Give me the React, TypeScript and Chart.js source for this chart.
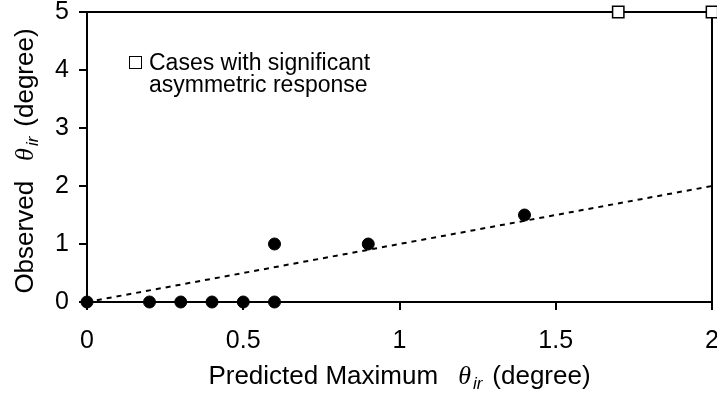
import React, { useEffect, useRef } from "react";
import { Chart, registerables } from "chart.js";

Chart.register(...registerables);

// ---- data ----
const fitX = [0, 2];
const fitY = [0, 2];
const observedX = [0, 0.2, 0.3, 0.4, 0.5, 0.6, 0.6, 0.9, 1.4];
const observedY = [0, 0, 0, 0, 0, 0, 1, 1, 1.5];
const asymmetricX = [1.7, 2];
const asymmetricY = [5, 5];
const xTickValues = [0, 0.5, 1, 1.5, 2];
const yTickValues = [0, 1, 2, 3, 4, 5];
const legendLines = ["Cases with significant", "asymmetric response"];
const xTitleParts = ["Predicted Maximum", "θ", "ir", "(degree)"];
const yTitleParts = ["Observed", "θ", "ir", "(degree)"];

const SANS = "'Liberation Sans', Arial, sans-serif";
const SERIF = "'Liberation Serif', 'Times New Roman', serif";

type Seg = { text: string; font: string; dy: number; gap: number };

function titleSegs(parts: string[]): Seg[] {
  return [
    { text: parts[0], font: `26px ${SANS}`, dy: 0, gap: 0 },
    { text: parts[1], font: `italic 26px ${SERIF}`, dy: 0, gap: 20 },
    { text: parts[2], font: `italic 17px ${SANS}`, dy: 5, gap: 2 },
    { text: parts[3], font: `26px ${SANS}`, dy: 0, gap: 10 },
  ];
}

function drawRich(ctx: CanvasRenderingContext2D, segs: Seg[], cx: number, by: number) {
  let total = 0;
  const widths = segs.map((s) => {
    ctx.font = s.font;
    const w = ctx.measureText(s.text).width;
    total += w + s.gap;
    return w;
  });
  let x = cx - total / 2;
  ctx.textAlign = "left";
  ctx.textBaseline = "alphabetic";
  ctx.fillStyle = "#000";
  segs.forEach((s, i) => {
    x += s.gap;
    ctx.font = s.font;
    ctx.fillText(s.text, x, by + s.dy);
    x += widths[i];
  });
}

const zeroPad = () => ({ left: 0, top: 0, right: 0, bottom: 0 });

const decorPlugin = {
  id: "decor",
  beforeDatasetsDraw(chart: any) {
    const { ctx, chartArea: a } = chart;
    ctx.save();
    ctx.strokeStyle = "#000";
    ctx.lineWidth = 2;
    ctx.beginPath();
    ctx.moveTo(Math.round(a.left), Math.round(a.top));
    ctx.lineTo(Math.round(a.right), Math.round(a.top));
    ctx.lineTo(Math.round(a.right), Math.round(a.bottom));
    ctx.stroke();
    ctx.restore();
  },
  afterDraw(chart: any) {
    const { ctx, chartArea: a } = chart;
    ctx.save();
    // x title
    drawRich(ctx, titleSegs(xTitleParts), (a.left + a.right) / 2, 384);
    // y title
    ctx.save();
    ctx.translate(33, 161);
    ctx.rotate(-Math.PI / 2);
    drawRich(ctx, titleSegs(yTitleParts), 0, 0);
    ctx.restore();
    // legend
    ctx.fillStyle = "#fff";
    ctx.strokeStyle = "#000";
    ctx.lineWidth = 1;
    ctx.fillRect(129.5, 56.5, 12, 12);
    ctx.strokeRect(129.5, 56.5, 12, 12);
    ctx.fillStyle = "#000";
    ctx.font = `23px ${SANS}`;
    ctx.textAlign = "left";
    ctx.textBaseline = "alphabetic";
    ctx.fillText(legendLines[0], 149, 70);
    ctx.fillText(legendLines[1], 149, 92);
    ctx.restore();
  },
};

export default function App() {
  const ref = useRef<HTMLCanvasElement>(null);
  useEffect(() => {
    document.body.style.margin = "0";
    const chart = new Chart(ref.current!, {
      type: "scatter",
      data: {
        datasets: [
          {
            label: "fit",
            data: fitX.map((x, i) => ({ x, y: fitY[i] })),
            showLine: true,
            borderColor: "#000",
            borderWidth: 2,
            borderDash: [5, 5],
            pointRadius: 0,
            clip: false as any,
          },
          {
            label: "observed",
            data: observedX.map((x, i) => ({ x, y: observedY[i] })),
            pointStyle: "circle",
            pointRadius: 6,
            backgroundColor: "#000",
            borderColor: "#000",
            borderWidth: 1,
            clip: false as any,
          },
          {
            label: "asymmetric",
            data: asymmetricX.map((x, i) => ({ x, y: asymmetricY[i] })),
            pointStyle: "rect",
            pointRadius: 8,
            backgroundColor: "#fff",
            borderColor: "#000",
            borderWidth: 1.5,
            clip: false as any,
          },
        ],
      },
      options: {
        responsive: false,
        animation: false,
        devicePixelRatio: 1,
        events: [],
        layout: { autoPadding: false, padding: { top: 12, right: 5, left: 0, bottom: 0 } },
        plugins: { legend: { display: false }, tooltip: { enabled: false } },
        scales: {
          x: {
            type: "linear",
            position: "bottom",
            min: 0,
            max: 2,
            afterBuildTicks: (s: any) => {
              s.ticks = xTickValues.map((v) => ({ value: v }));
            },
            afterFit: (s: any) => {
              s.height = 96;
              s.paddingLeft = 0;
              s.paddingRight = 0;
              s.getPadding = zeroPad;
            },
            ticks: {
              color: "#000",
              font: { family: SANS, size: 25 },
              padding: 16,
              maxRotation: 0,
              minRotation: 0,
              autoSkip: false,
              callback: (v: any) => String(v),
            },
            grid: { drawOnChartArea: false, drawTicks: true, tickLength: 8, lineWidth: 2, color: "#000" },
            border: { display: true, color: "#000", width: 2 },
          },
          y: {
            type: "linear",
            min: 0,
            max: 5,
            afterBuildTicks: (s: any) => {
              s.ticks = yTickValues.map((v) => ({ value: v }));
            },
            afterFit: (s: any) => {
              s.width = 87;
              s.paddingTop = 0;
              s.paddingBottom = 0;
              s.getPadding = zeroPad;
            },
            ticks: {
              color: "#000",
              font: { family: SANS, size: 25 },
              padding: 10,
              autoSkip: false,
              callback: (v: any) => String(v),
            },
            grid: { drawOnChartArea: false, drawTicks: true, tickLength: 8, lineWidth: 2, color: "#000" },
            border: { display: true, color: "#000", width: 2 },
          },
        },
      },
      plugins: [decorPlugin],
    } as any);
    return () => chart.destroy();
  }, []);
  return (
    <div style={{ width: 717, height: 398 }}>
      <canvas ref={ref} width={717} height={398} style={{ display: "block", width: 717, height: 398 }} />
    </div>
  );
}
